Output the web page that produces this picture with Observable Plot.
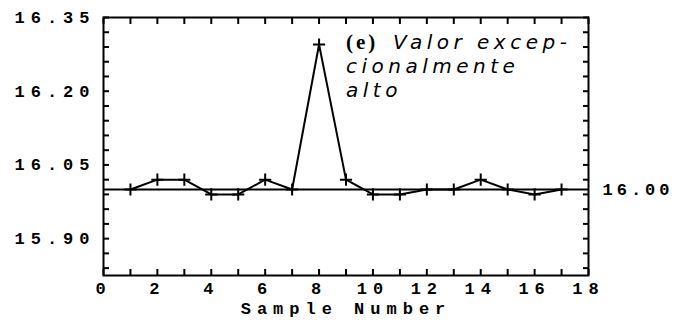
<!DOCTYPE html>
<html><head><meta charset="utf-8">
<script src="https://cdn.jsdelivr.net/npm/d3@7"></script>
<script src="https://cdn.jsdelivr.net/npm/@observablehq/plot@0.6"></script>
<style>
body{margin:0;background:#fff;}
</style></head><body><div id="chart"></div>
<script>
const samples = [1,2,3,4,5,6,7,8,9,10,11,12,13,14,15,16,17];
const values = [16.00,16.02,16.02,15.99,15.99,16.02,16.00,16.295,16.02,15.99,15.99,16.00,16.00,16.02,16.00,15.99,16.00];
const xTicks = [0,1,2,3,4,5,6,7,8,9,10,11,12,13,14,15,16,17,18];
const xLabels = [0,2,4,6,8,10,12,14,16,18];
const yTicks = [15.84,15.87,15.90,15.93,15.96,15.99,16.02,16.05,16.08,16.11,16.14,16.17,16.20,16.23,16.26,16.29,16.32,16.35];
const yLabels = [15.90,16.05,16.20,16.35];
const centerLine = [16.00];
const xTitle = "Sample Number";
const noteTag = "(e)";
const noteLines = ["Valor excep-","cionalmente","alto"];
const noteX = 9;

const data = samples.map((s,i)=>({sample:s, value:values[i]}));
const fmt = d => d.toFixed(2);
const lab = {fontSize: 17, fontWeight: "bold", fontFamily: "Liberation Mono"};
const note = {x: () => noteX, frameAnchor: "top", textAnchor: "start", fontFamily: "DejaVu Sans", fontStyle: "italic", fontWeight: "normal", fontSize: 20, ariaLabel: () => "note"};

const chart = Plot.plot({
  width: 681, height: 324,
  marginLeft: 103, marginRight: 93, marginTop: 17, marginBottom: 49,
  style: {fontFamily: "Liberation Mono", fontWeight: "bold", fontSize: "17px", color: "black", background: "white", overflow: "visible"},
  x: {domain: [0,18]},
  y: {domain: [15.825,16.35]},
  marks: [
    Plot.ruleY(centerLine, {stroke: "black", strokeWidth: 2}),
    Plot.line(data, {x: "sample", y: "value", stroke: "black", strokeWidth: 2}),
    Plot.dot(data, {x: "sample", y: "value", symbol: "plus", r: 4, stroke: "black", strokeWidth: 2}),
    Plot.axisX(xTicks, {anchor: "bottom", tickSize: -6, tickFormat: () => "", label: null, strokeWidth: 2}),
    Plot.axisX(xTicks, {anchor: "top", tickSize: -6, tickFormat: () => "", label: null, strokeWidth: 2}),
    Plot.axisY(yTicks, {anchor: "left", tickSize: -6, tickFormat: () => "", label: null, strokeWidth: 2}),
    Plot.axisY(yTicks, {anchor: "right", tickSize: -6, tickFormat: () => "", label: null, strokeWidth: 2}),
    Plot.axisX(xLabels, {anchor: "bottom", tickSize: 0, tickPadding: 6, label: null, ...lab}),
    Plot.axisY(yLabels, {anchor: "left", tickSize: 0, tickPadding: 8, tickFormat: fmt, label: null, ...lab}),
    Plot.text(centerLine, {y: d => d, frameAnchor: "right", dx: 14, textAnchor: "start", text: fmt, ...lab, ariaLabel: () => "right"}),
    Plot.text([xTitle], {frameAnchor: "bottom", dy: 38, ...lab, ariaLabel: () => "mono"}),
    Plot.frame({stroke: "black", strokeWidth: 2}),
    Plot.text([noteTag], {...note, dy: 17, fontFamily: "Liberation Serif", fontStyle: "normal", fontWeight: "bold", fontSize: 21, ariaLabel: () => "tag"}),
    Plot.text([noteLines[0]], {...note, dy: 17, dx: 47}),
    Plot.text([noteLines[1]], {...note, dy: 41}),
    Plot.text([noteLines[2]], {...note, dy: 65})
  ]
});
const svg = d3.select(chart);
svg.selectAll('g[aria-label$="tick label"]').style("letter-spacing", "6px");
svg.selectAll('[aria-label="mono"]').style("letter-spacing", "6px");
svg.selectAll('[aria-label="right"]').style("letter-spacing", "4px");
svg.selectAll('[aria-label="note"]').style("letter-spacing", "4.5px");
svg.selectAll('[aria-label="tag"]').style("letter-spacing", "3px");
document.getElementById("chart").appendChild(chart);
</script></body></html>
